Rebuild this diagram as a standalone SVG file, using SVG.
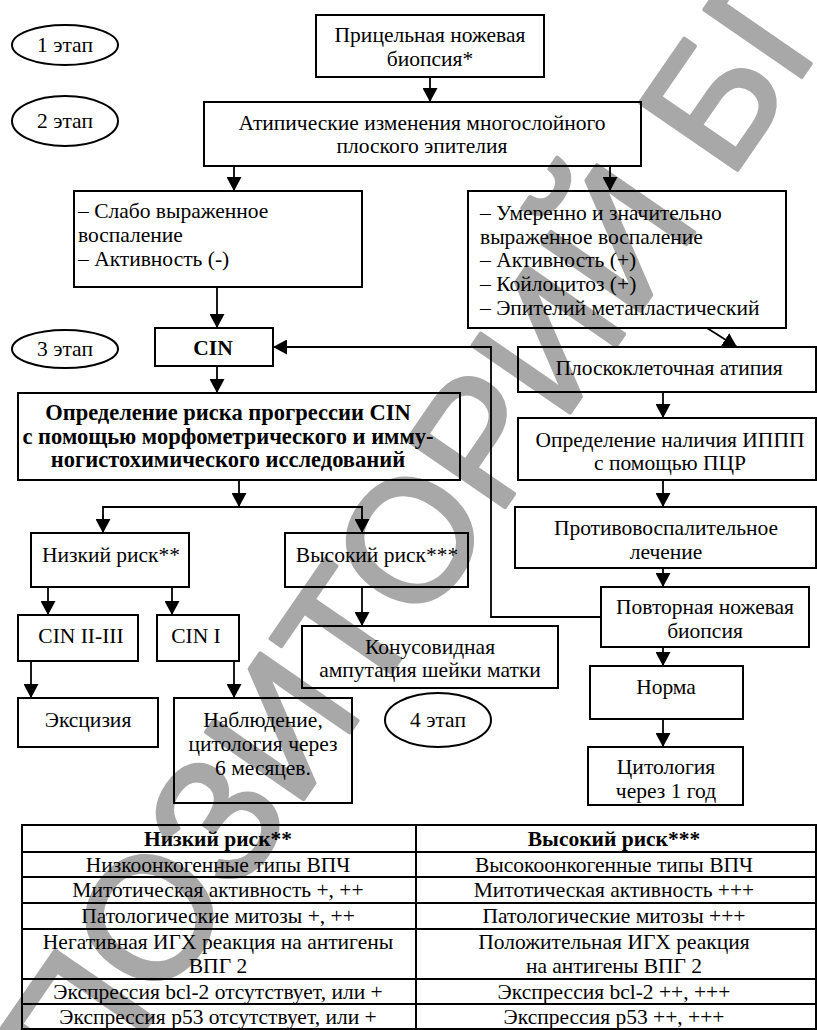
<svg xmlns="http://www.w3.org/2000/svg" width="817" height="1030" viewBox="0 0 817 1030">
<style>
.t{font-family:"Liberation Serif","Times New Roman",serif;font-size:21.5px;fill:#000}
.c{text-anchor:middle}
.b{font-weight:bold}
.bb{font-weight:bold;font-size:22.5px}
.bx{fill:none;stroke:#000;stroke-width:2}
.ln{fill:none;stroke:#000;stroke-width:1.8}
.wm{font-family:"Liberation Sans",Arial,sans-serif;font-size:172px;fill:#a8a8a8;stroke:#a8a8a8;stroke-width:4;stroke-linejoin:round}
</style>
<defs>
<marker id="ah" markerUnits="userSpaceOnUse" markerWidth="15" markerHeight="15" refX="14" refY="7.5" orient="auto">
<path d="M0,0 L14,7.5 L0,15 z" fill="#000"/>
</marker>
</defs>
<rect x="0" y="0" width="817" height="1030" fill="#fff"/>
<g id="watermark">
<text class="wm" transform="translate(-40,1297) rotate(-55.4)">РЕПОЗИТОРИЙ БГМУ</text>
</g>
<g id="connectors">
<line class="ln" x1="430" y1="77" x2="430" y2="102" marker-end="url(#ah)"/>
<line class="ln" x1="234" y1="166" x2="234" y2="191" marker-end="url(#ah)"/>
<line class="ln" x1="610" y1="166" x2="610" y2="191" marker-end="url(#ah)"/>
<line class="ln" x1="217" y1="287" x2="217" y2="328" marker-end="url(#ah)"/>
<line class="ln" x1="217" y1="366" x2="217" y2="393" marker-end="url(#ah)"/>
<line class="ln" x1="707" y1="328" x2="737" y2="347" marker-end="url(#ah)"/>
<line class="ln" x1="663" y1="392" x2="663" y2="418" marker-end="url(#ah)"/>
<line class="ln" x1="663" y1="480" x2="663" y2="507" marker-end="url(#ah)"/>
<line class="ln" x1="663" y1="568" x2="663" y2="587" marker-end="url(#ah)"/>
<line class="ln" x1="663" y1="647" x2="663" y2="666" marker-end="url(#ah)"/>
<line class="ln" x1="663" y1="719" x2="663" y2="747" marker-end="url(#ah)"/>
<path class="ln" d="M601,617 H491 V347 H273" marker-end="url(#ah)"/>
<line class="ln" x1="239" y1="480" x2="239" y2="507" marker-end="url(#ah)"/>
<path class="ln" d="M103,533 V507 H362 V533" />
<line class="ln" x1="103" y1="515" x2="103" y2="533" marker-end="url(#ah)"/>
<line class="ln" x1="362" y1="515" x2="362" y2="533" marker-end="url(#ah)"/>
<line class="ln" x1="48" y1="587" x2="48" y2="615" marker-end="url(#ah)"/>
<line class="ln" x1="172" y1="587" x2="172" y2="615" marker-end="url(#ah)"/>
<line class="ln" x1="362" y1="587" x2="362" y2="626" marker-end="url(#ah)"/>
<line class="ln" x1="31" y1="661" x2="31" y2="698" marker-end="url(#ah)"/>
<line class="ln" x1="234" y1="661" x2="234" y2="698" marker-end="url(#ah)"/>
</g>
<g id="stage1"><ellipse class="bx" cx="65" cy="45" rx="53" ry="20"/><text class="t c" x="65" y="52">1 этап</text></g>
<g id="stage2"><ellipse class="bx" cx="65" cy="121" rx="53" ry="25"/><text class="t c" x="65" y="128">2 этап</text></g>
<g id="stage3"><ellipse class="bx" cx="65" cy="349" rx="53" ry="19"/><text class="t c" x="65" y="356">3 этап</text></g>
<g id="stage4"><ellipse class="bx" cx="438" cy="720" rx="53" ry="27"/><text class="t c" x="438" y="727">4 этап</text></g>
<g id="biopsy"><rect class="bx" x="316" y="15" width="228" height="62"/><text class="t c" x="430" y="42">Прицельная ножевая</text><text class="t c" x="430" y="66">биопсия*</text></g>
<g id="atypia"><rect class="bx" x="204" y="102" width="437" height="64"/><text class="t c" x="422" y="130">Атипические изменения многослойного</text><text class="t c" x="422" y="153">плоского эпителия</text></g>
<g id="mild"><rect class="bx" x="74" y="191" width="288" height="96"/><text class="t" x="78" y="218">– Слабо выраженное</text><text class="t" x="78" y="242">воспаление</text><text class="t" x="78" y="266">– Активность (-)</text></g>
<g id="moderate"><rect class="bx" x="468" y="191" width="318" height="137"/><text class="t" x="480" y="220">– Умеренно и значительно</text><text class="t" x="480" y="244">выраженное воспаление</text><text class="t" x="480" y="267">– Активность (+)</text><text class="t" x="480" y="291">– Койлоцитоз (+)</text><text class="t" x="480" y="315">– Эпителий метапластический</text></g>
<g id="cin"><rect class="bx" x="155" y="328" width="118" height="38"/><text class="t c b" x="213" y="355">CIN</text></g>
<g id="squamous"><rect class="bx" x="518" y="347" width="298" height="45"/><text class="t c" x="669" y="375">Плоскоклеточная атипия</text></g>
<g id="risk"><rect class="bx" x="18" y="393" width="442" height="87"/><text class="t c bb" x="228" y="420">Определение риска прогрессии CIN</text><text class="t c bb" x="228" y="444">с помощью морфометрического и имму-</text><text class="t c bb" x="228" y="467">ногистохимического исследований</text></g>
<g id="pcr"><rect class="bx" x="518" y="418" width="298" height="62"/><text class="t c" x="670" y="447">Определение наличия ИППП</text><text class="t c" x="670" y="470">с помощью ПЦР</text></g>
<g id="antiinflam"><rect class="bx" x="515" y="507" width="301" height="61"/><text class="t c" x="666" y="535">Противовоспалительное</text><text class="t c" x="666" y="559">лечение</text></g>
<g id="lowrisk"><rect class="bx" x="31" y="533" width="158" height="54"/><text class="t c" x="111" y="562">Низкий риск**</text></g>
<g id="highrisk"><rect class="bx" x="285" y="533" width="183" height="54"/><text class="t c" x="377" y="562">Высокий риск***</text></g>
<g id="rebiopsy"><rect class="bx" x="601" y="587" width="208" height="60"/><text class="t c" x="705" y="614">Повторная ножевая</text><text class="t c" x="705" y="638">биопсия</text></g>
<g id="cin23"><rect class="bx" x="18" y="615" width="120" height="46"/><text class="t c" x="81" y="643">CIN II-III</text></g>
<g id="cin1"><rect class="bx" x="157" y="615" width="82" height="46"/><text class="t c" x="196" y="643">CIN I</text></g>
<g id="conization"><rect class="bx" x="302" y="626" width="256" height="62"/><text class="t c" x="430" y="654">Конусовидная</text><text class="t c" x="430" y="677">ампутация шейки матки</text></g>
<g id="norm"><rect class="bx" x="590" y="666" width="153" height="53"/><text class="t c" x="666" y="694">Норма</text></g>
<g id="excision"><rect class="bx" x="18" y="698" width="140" height="49"/><text class="t c" x="88" y="727">Эксцизия</text></g>
<g id="observation"><rect class="bx" x="174" y="698" width="178" height="105"/><text class="t c" x="263" y="727">Наблюдение,</text><text class="t c" x="263" y="751">цитология через</text><text class="t c" x="263" y="775">6 месяцев.</text></g>
<g id="cytology"><rect class="bx" x="588" y="747" width="155" height="58"/><text class="t c" x="666" y="774">Цитология</text><text class="t c" x="666" y="798">через 1 год</text></g>
<g id="table">
<rect class="bx" x="22" y="825" width="794" height="204"/>
<path class="bx" d="M416,825 V1029 M22,852 H816 M22,877 H816 M22,903 H816 M22,929 H816 M22,979 H816 M22,1004 H816"/>
<text class="t c b" x="218" y="846">Низкий риск**</text><text class="t c b" x="614" y="846">Высокий риск***</text>
<text class="t c" x="218" y="872">Низкоонкогенные типы ВПЧ</text><text class="t c" x="614" y="872">Высокоонкогенные типы ВПЧ</text>
<text class="t c" x="218" y="897">Митотическая активность +, ++</text><text class="t c" x="614" y="897">Митотическая активность +++</text>
<text class="t c" x="218" y="923">Патологические митозы +, ++</text><text class="t c" x="614" y="923">Патологические митозы +++</text>
<text class="t c" x="218" y="949">Негативная ИГХ реакция на антигены</text><text class="t c" x="614" y="949">Положительная ИГХ реакция</text>
<text class="t c" x="218" y="973">ВПГ 2</text><text class="t c" x="614" y="973">на антигены ВПГ 2</text>
<text class="t c" x="218" y="999">Экспрессия bcl-2 отсутствует, или +</text><text class="t c" x="614" y="999">Экспрессия bcl-2 ++, +++</text>
<text class="t c" x="218" y="1024">Экспрессия p53 отсутствует, или +</text><text class="t c" x="614" y="1024">Экспрессия p53 ++, +++</text>
</g>
</svg>
